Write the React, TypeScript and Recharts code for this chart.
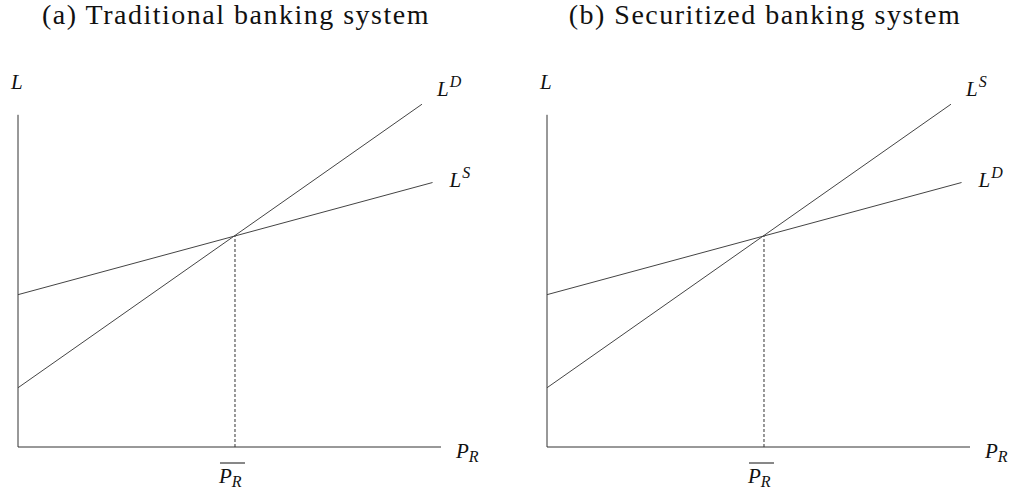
import React from "react"
import { LineChart, Line, XAxis, YAxis, ReferenceLine, ReferenceDot } from "recharts"

// loan supply / demand schedules, x = P_R, y = L
const steepLine = [
  { x: 0, y: 1.4 },
  { x: 9.55, y: 8.1 },
]
const shallowLine = [
  { x: 0, y: 3.6 },
  { x: 9.8, y: 6.25 },
]
const equilibrium = { x: 5.13, y: 5.0 }
const xMax = 10
const yMax = 8.2
const yAxisTop = 7.85

const titles = ["(a) Traditional banking system", "(b) Securitized banking system"]
const steepLabels = ["D", "S"]
const shallowLabels = ["S", "D"]

const LINE = "#444"
const AXIS = "#333"
const FONT = "'Liberation Serif', serif"

type Anchor = { cx?: number; cy?: number }

function supLabel(sup: string, dx: number, dy: number) {
  return (p: Anchor) => (
    <text x={(p.cx ?? 0) + dx} y={(p.cy ?? 0) + dy} fontFamily={FONT} fontStyle="italic" fontSize={21} fill="#111">
      L
      <tspan fontSize={16} dx={1} dy={-9}>
        {sup}
      </tspan>
    </text>
  )
}

function axisL(p: Anchor) {
  return (
    <text x={(p.cx ?? 0) - 7} y={(p.cy ?? 0) - 26} fontFamily={FONT} fontStyle="italic" fontSize={21} fill="#111">
      L
    </text>
  )
}

function axisP(p: Anchor) {
  return (
    <text x={(p.cx ?? 0) + 15} y={(p.cy ?? 0) + 11} fontFamily={FONT} fontStyle="italic" fontSize={21} fill="#111">
      P
      <tspan fontSize={16} dy={4}>
        R
      </tspan>
    </text>
  )
}

function barP(p: Anchor) {
  const x = p.cx ?? 0
  const y = p.cy ?? 0
  return (
    <g>
      <line x1={x - 15} x2={x + 10} y1={y + 16} y2={y + 16} stroke="#111" strokeWidth={1} />
      <text x={x - 16} y={y + 36} fontFamily={FONT} fontStyle="italic" fontSize={21} fill="#111">
        P
        <tspan fontSize={16} dy={4}>
          R
        </tspan>
      </text>
    </g>
  )
}

function Panel({ idx, left, width, right }: { idx: number; left: number; width: number; right: number }) {
  return (
    <div style={{ position: "absolute", left, top: 0, width, height: 492 }}>
      <div
        style={{
          position: "absolute",
          left: 18,
          top: 1,
          width: 436,
          textAlign: "center",
          fontFamily: FONT,
          fontSize: 28,
          letterSpacing: 1.5,
          lineHeight: "28px",
          color: "#111",
          whiteSpace: "nowrap",
        }}
      >
        {titles[idx]}
      </div>
      <LineChart width={width} height={492} margin={{ top: 100, right, bottom: 45, left: 18 }}>
        <XAxis type="number" dataKey="x" domain={[0, xMax]} hide />
        <YAxis type="number" dataKey="y" domain={[0, yMax]} hide />
        <ReferenceLine segment={[{ x: 0, y: 0 }, { x: xMax, y: 0 }]} stroke={AXIS} strokeWidth={1} />
        <ReferenceLine segment={[{ x: 0, y: 0 }, { x: 0, y: yAxisTop }]} stroke={AXIS} strokeWidth={1} />
        <ReferenceLine
          segment={[{ x: equilibrium.x, y: 0 }, { x: equilibrium.x, y: equilibrium.y }]}
          stroke={AXIS}
          strokeWidth={1}
          strokeDasharray="3 2"
        />
        <Line data={steepLine} dataKey="y" stroke={LINE} strokeWidth={1} dot={false} isAnimationActive={false} />
        <Line data={shallowLine} dataKey="y" stroke={LINE} strokeWidth={1} dot={false} isAnimationActive={false} />
        <ReferenceDot
          x={steepLine[1].x}
          y={steepLine[1].y}
          r={0}
          shape={supLabel(steepLabels[idx], 15, -8)}
        />
        <ReferenceDot
          x={shallowLine[1].x}
          y={shallowLine[1].y}
          r={0}
          shape={supLabel(shallowLabels[idx], 17, 4)}
        />
        <ReferenceDot x={0} y={yAxisTop} r={0} shape={axisL} />
        <ReferenceDot x={xMax} y={0} r={0} shape={axisP} />
        <ReferenceDot x={equilibrium.x} y={0} r={0} shape={barP} />
      </LineChart>
    </div>
  )
}

export default function App() {
  return (
    <div style={{ position: "absolute", left: 0, top: 0, width: 1013, height: 492, background: "#fff" }}>
      <Panel idx={0} left={0} width={506} right={65} />
      <Panel idx={1} left={529} width={484} right={43} />
    </div>
  )
}
